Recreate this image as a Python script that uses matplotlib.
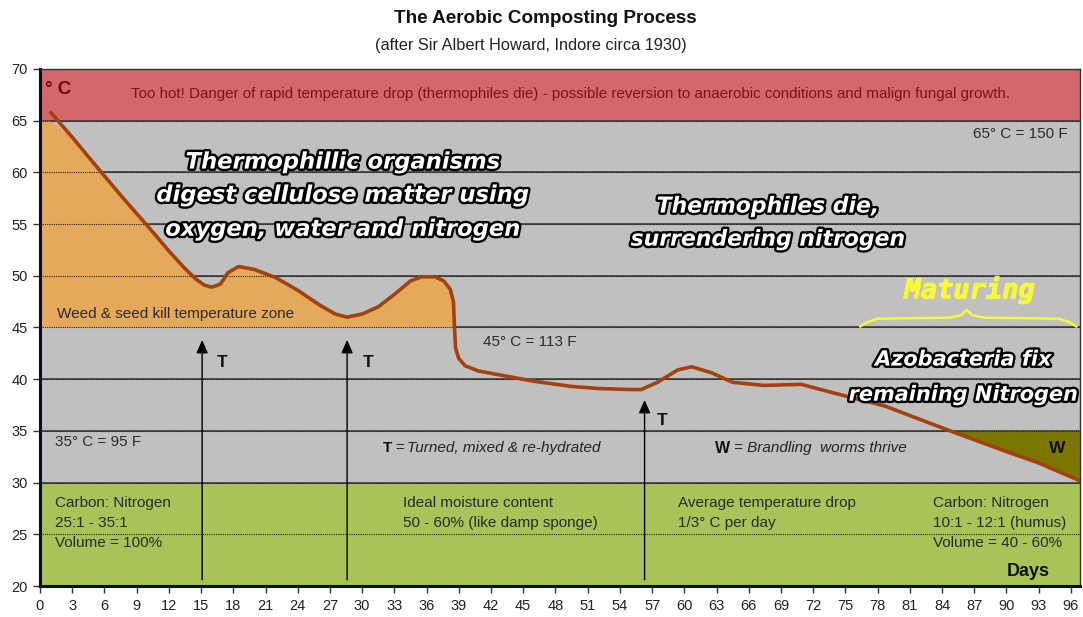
import numpy as np
import matplotlib
matplotlib.use("Agg")
import matplotlib.pyplot as plt
import matplotlib.patheffects as pe

# ---------------- data ----------------
days = [1.0, 3.0, 5.8, 8.0, 10.2, 12.0, 13.5, 14.5, 15.3, 16.0, 16.8, 17.5, 18.5,
        20.0, 22.0, 24.0, 26.0, 27.5, 28.6, 30.0, 31.5, 33.0, 34.5, 35.5, 36.8,
        37.6, 38.2, 38.5, 38.6, 38.7, 39.0, 39.6, 40.8, 43.4, 46.0, 49.5, 52.0,
        55.0, 56.0, 57.5, 59.4, 60.7, 62.6, 64.5, 67.4, 70.9, 73.8, 78.7, 84.5,
        90.0, 93.0, 96.8]
temps = [65.8, 63.4, 59.9, 57.2, 54.6, 52.4, 50.7, 49.7, 49.1, 48.9, 49.2, 50.3, 50.9,
         50.6, 49.8, 48.6, 47.2, 46.3, 46.0, 46.3, 47.0, 48.2, 49.5, 49.9, 49.9,
         49.5, 48.7, 47.5, 45.0, 43.0, 42.0, 41.3, 40.8, 40.3, 39.8, 39.3, 39.1,
         39.0, 39.0, 39.7, 40.9, 41.2, 40.6, 39.7, 39.4, 39.5, 38.7, 37.4, 35.1,
         33.0, 31.9, 30.2]

turn_days = [15.1, 28.6, 56.3]
turn_tops = [43.8, 43.8, 38.0]
turn_bottom = 20.6

x_ticks = list(range(0, 97, 3))
y_ticks = list(range(20, 71, 5))

zone_hot = (65, 70)
zone_mid = (30, 65)
zone_low = (20, 30)
weed_zone_floor = 45
worm_ceiling = 35
worm_start = 80

# ---------------- figure ----------------
W, H = 1083, 617
fig = plt.figure(figsize=(W / 100, H / 100), dpi=100)
fig.patch.set_facecolor("white")
ax = fig.add_axes([40 / W, 1 - 586 / H, 1040 / W, 517 / H])
ax.set_xlim(0, 96.85)
ax.set_ylim(20, 70)

FONT = "Liberation Sans"
txtc = "#2b2b2b"
SMALL = 11

# background zones
ax.axhspan(*zone_hot, color="#D4676B", zorder=0)
ax.axhspan(*zone_mid, color="#C0C0C0", zorder=0)
ax.axhspan(*zone_low, color="#A8C358", zorder=0)

# solid band lines in grey region
for yv in range(30, 66, 5):
    ax.axhline(yv, color="#333333", lw=1.1, zorder=1)
# dotted grid
for yv in y_ticks[1:-1]:
    ax.axhline(yv, color="#222222", lw=0.8, ls=(0, (1, 1)), zorder=3)

d = np.array(days)
t = np.array(temps)
xs = np.concatenate([[0.0], d])
ys = np.concatenate([[65.0], np.minimum(t, 65.0)])
ax.fill_between(xs, weed_zone_floor, ys, where=ys >= weed_zone_floor,
                interpolate=True, color="#E5A95B", zorder=2, lw=0)
ax.fill_between(d, t, worm_ceiling, where=(t <= worm_ceiling) & (d >= worm_start),
                interpolate=True, color="#7B7600", zorder=2, lw=0)

ax.plot(d, t, color="#A3410F", lw=2.6, zorder=6, solid_joinstyle="round",
        solid_capstyle="round")

# turning arrows
for xd, top in zip(turn_days, turn_tops):
    ax.annotate("", xy=(xd, top), xytext=(xd, turn_bottom),
                arrowprops=dict(arrowstyle="-|>,head_length=0.8,head_width=0.35",
                                color="black", lw=1.0, shrinkA=0, shrinkB=0),
                zorder=7)
for xd, yt in [(17.0, 41.6), (30.6, 41.6), (57.9, 36.0)]:
    ax.text(xd, yt, "T", fontsize=12.5, fontweight="bold", family=FONT,
            ha="center", va="center", color="#111111", zorder=8)

# spines / ticks
for s in ["left", "bottom"]:
    ax.spines[s].set_linewidth(2.2)
    ax.spines[s].set_color("#0a0a20")
for s in ["top", "right"]:
    ax.spines[s].set_linewidth(1.0)
    ax.spines[s].set_color("#333333")
ax.set_xticks(x_ticks)
ax.set_yticks(y_ticks)
ax.tick_params(direction="out", length=5, width=1, colors="#333333",
               labelsize=10.5, pad=4)
for lab in ax.get_xticklabels() + ax.get_yticklabels():
    lab.set_family(FONT)
    lab.set_color("#222222")

# titles
fig.text(545 / W, 1 - 18.5 / H, "The Aerobic Composting Process", ha="center",
         va="center", fontsize=13.6, fontweight="bold", family=FONT, color="#111111")
fig.text(531 / W, 1 - 45.5 / H, "(after Sir Albert Howard, Indore circa 1930)",
         ha="center", va="center", fontsize=11.8, family=FONT, color="#222222")

# red band texts
ax.text(0.5, 68.0, "° C", fontsize=13.5, fontweight="bold", family=FONT,
        color="#6B0A0A", ha="left", va="center", zorder=8)
ax.text(49.4, 67.6, "Too hot! Danger of rapid temperature drop (thermophiles die) - "
        "possible reversion to anaerobic conditions and malign fungal growth.",
        fontsize=10.9, family=FONT, color="#7A1515", ha="center", va="center", zorder=8)

ax.text(95.7, 63.7, "65° C = 150 F", fontsize=SMALL, family=FONT, color=txtc,
        ha="right", va="center", zorder=8)
ax.text(41.3, 43.6, "45° C = 113 F", fontsize=SMALL, family=FONT, color=txtc,
        ha="left", va="center", zorder=8)
ax.text(1.4, 33.9, "35° C = 95 F", fontsize=SMALL, family=FONT, color=txtc,
        ha="left", va="center", zorder=8)
ax.text(1.6, 46.3, "Weed & seed kill temperature zone", fontsize=SMALL, family=FONT,
        color=txtc, ha="left", va="center", zorder=8)

# outlined headline texts
outline = [pe.withStroke(linewidth=3.4, foreground="black")]
big = dict(fontweight="bold", style="italic", color="white",
           ha="center", va="center", zorder=9, path_effects=outline,
           family="DejaVu Sans")
ax.text(28.2, 61.0, "Thermophillic organisms", fontsize=16.3, **big)
ax.text(28.2, 57.8, "digest cellulose matter using", fontsize=16.3, **big)
ax.text(28.2, 54.5, "oxygen, water and nitrogen", fontsize=16.3, **big)
ax.text(67.8, 56.7, "Thermophiles die,", fontsize=15.8, **big)
ax.text(67.8, 53.5, "surrendering nitrogen", fontsize=15.8, **big)
ax.text(86.0, 41.9, "Azobacteria fix", fontsize=15, **big)
ax.text(86.0, 38.5, "remaining Nitrogen", fontsize=15, **big)

# Maturing + brace
yellow = "#F8F83C"
ax.text(86.6, 48.6, "Maturing", fontsize=19.5, fontweight="bold", style="italic",
        family="DejaVu Sans Mono", color=yellow, ha="center", va="center", zorder=8,
        path_effects=[pe.withStroke(linewidth=0.8, foreground=yellow)])
brace_x0, brace_x1, brace_tip_x = 76.4, 96.5, 86.3
brace_base, brace_arm, brace_tip = 45.1, 45.95, 46.7
bx = [brace_x0, brace_x0 + 0.6, brace_x0 + 1.6, brace_tip_x - 1.6, brace_tip_x - 0.5,
      brace_tip_x, brace_tip_x + 0.5, brace_tip_x + 1.6, brace_x1 - 1.6, brace_x1 - 0.6,
      brace_x1]
by = [brace_base, brace_arm - 0.45, brace_arm - 0.1, brace_arm, brace_arm + 0.25,
      brace_tip, brace_arm + 0.25, brace_arm, brace_arm - 0.1, brace_arm - 0.45,
      brace_base]
ax.plot(bx, by, color=yellow, lw=1.8, zorder=8)

# legend-ish notes
ax.text(31.9, 33.3, "T", fontsize=SMALL, fontweight="bold", family=FONT,
        color="#111111", ha="left", va="center", zorder=8)
ax.text(33.1, 33.3, "=", fontsize=SMALL, family=FONT, color="#222222",
        ha="left", va="center", zorder=8)
ax.text(34.2, 33.3, "Turned, mixed & re-hydrated", fontsize=SMALL, style="italic",
        family=FONT, color="#222222", ha="left", va="center", zorder=8)
ax.text(62.9, 33.3, "W", fontsize=11.5, fontweight="bold", family=FONT,
        color="#111111", ha="left", va="center", zorder=8)
ax.text(64.6, 33.3, "= Brandling  worms thrive", fontsize=SMALL, style="italic",
        family=FONT, color="#222222", ha="left", va="center", zorder=8)
ax.text(94.7, 33.3, "W", fontsize=12.5, fontweight="bold", family=FONT,
        color="#111111", ha="center", va="center", zorder=8)

# green band notes
gnote = dict(fontsize=SMALL, family=FONT, color="#2b2b2b", ha="left", va="top",
             linespacing=1.55, zorder=8)
ax.text(1.4, 28.75, "Carbon: Nitrogen\n25:1 - 35:1\nVolume = 100%", **gnote)
ax.text(33.8, 28.75, "Ideal moisture content\n50 - 60% (like damp sponge)", **gnote)
ax.text(59.4, 28.75, "Average temperature drop\n1/3° C per day", **gnote)
ax.text(83.2, 28.75, "Carbon: Nitrogen\n10:1 - 12:1 (humus)\nVolume = 40 - 60%", **gnote)
ax.text(92.0, 21.4, "Days", fontsize=13, fontweight="bold", family=FONT,
        color="#111111", ha="center", va="center", zorder=8)

fig.savefig("out.png", dpi=100, facecolor="white")
